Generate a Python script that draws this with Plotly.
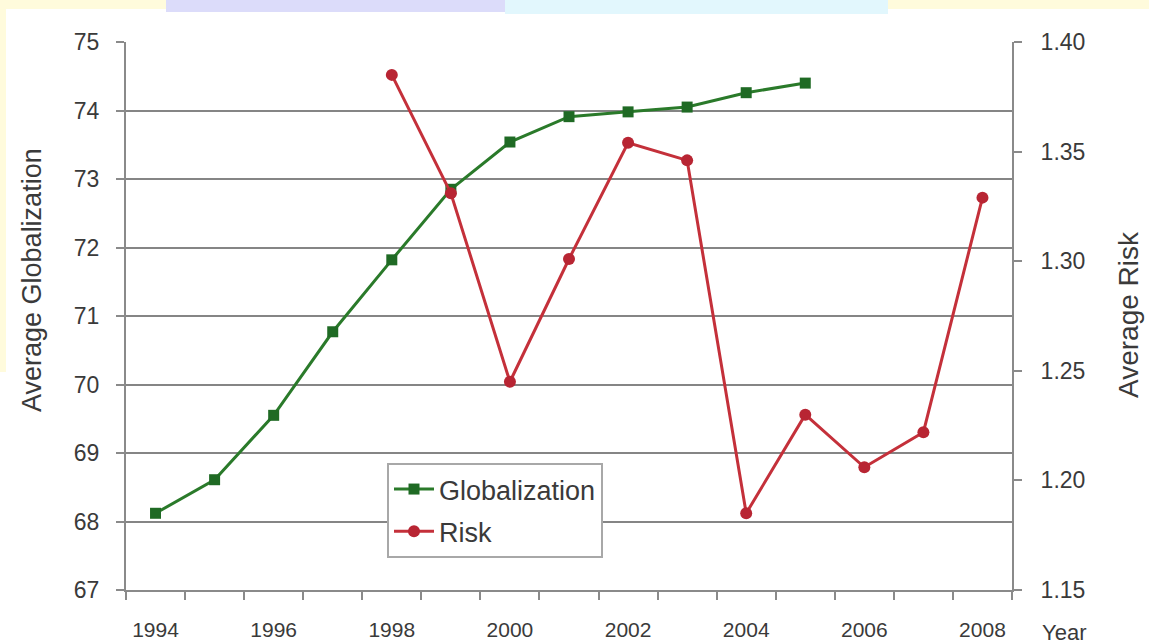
import plotly.graph_objects as go

# ---- data ----
glob_years = [1994, 1995, 1996, 1997, 1998, 1999, 2000, 2001, 2002, 2003, 2004, 2005]
globalization = [68.12, 68.61, 69.55, 70.77, 71.82, 72.85, 73.54, 73.91, 73.98, 74.05, 74.26, 74.40]

risk_years = [1998, 1999, 2000, 2001, 2002, 2003, 2004, 2005, 2006, 2007, 2008]
risk = [1.385, 1.331, 1.245, 1.301, 1.354, 1.346, 1.185, 1.230, 1.206, 1.222, 1.329]

x_ticks = [1994, 1996, 1998, 2000, 2002, 2004, 2006, 2008]
left_ticks = [67, 68, 69, 70, 71, 72, 73, 74, 75]
right_ticks = [1.15, 1.20, 1.25, 1.30, 1.35, 1.40]

W, H = 1149, 644
L, R, T, B = 126, 137, 42, 54
PW, PH = W - L - R, H - T - B

def px(x):
    return (x - L) / PW

def py(y):
    return (H - B - y) / PH

FONT = "Liberation Sans, Arial, sans-serif"
TXT = "#3a3a3a"
GRID = "#858585"
AX = "#8a8a8a"
GREEN = "#2a7a2a"
RED = "#c4303a"

fig = go.Figure()
fig.add_trace(go.Scatter(
    x=glob_years, y=globalization, name="Globalization", mode="lines+markers",
    line=dict(color=GREEN, width=3),
    marker=dict(symbol="square", size=11, color="#1f6a24"),
    yaxis="y", legendgroup="g",
))
fig.add_trace(go.Scatter(
    x=risk_years, y=risk, name="Risk", mode="lines+markers",
    line=dict(color=RED, width=3),
    marker=dict(symbol="circle", size=12, color="#b82533"),
    yaxis="y2", legendgroup="r",
))

shapes = [
    # decorative slide banner at top
    dict(type="rect", xref="paper", yref="paper", x0=px(0), x1=px(W), y0=py(9), y1=py(0),
         fillcolor="#fffbdc", line=dict(width=0), layer="below"),
    dict(type="rect", xref="paper", yref="paper", x0=px(166), x1=px(505), y0=py(12), y1=py(0),
         fillcolor="#dcdcfa", line=dict(width=0), layer="below"),
    dict(type="rect", xref="paper", yref="paper", x0=px(505), x1=px(888), y0=py(14), y1=py(0),
         fillcolor="#e2f7fd", line=dict(width=0), layer="below"),
    dict(type="rect", xref="paper", yref="paper", x0=px(0), x1=px(6), y0=py(372), y1=py(0),
         fillcolor="#fffbdc", line=dict(width=0), layer="below"),
]

annotations = [
    dict(text="Average Globalization", xref="paper", yref="paper", x=px(32), y=py(280),
         textangle=-90, showarrow=False, font=dict(family=FONT, size=27, color=TXT),
         xanchor="center", yanchor="middle"),
    dict(text="Average Risk", xref="paper", yref="paper", x=px(1128), y=py(315),
         textangle=-90, showarrow=False, font=dict(family=FONT, size=28, color=TXT),
         xanchor="center", yanchor="middle"),
    dict(text="Year", xref="paper", yref="paper", x=px(1040), y=py(632),
         showarrow=False, font=dict(family=FONT, size=22, color=TXT),
         xanchor="left", yanchor="middle"),
]

fig.update_layout(
    width=W, height=H,
    margin=dict(l=L, r=R, t=T, b=B, autoexpand=False),
    paper_bgcolor="white", plot_bgcolor="white",
    font=dict(family=FONT, size=21, color=TXT),
    showlegend=True,
    legend=dict(
        x=px(387), y=py(463), xanchor="left", yanchor="top",
        bordercolor="#a8a8a8", borderwidth=2, bgcolor="white",
        font=dict(family=FONT, size=27, color=TXT),
        itemwidth=40, tracegroupgap=4,
    ),
    xaxis=dict(
        range=[1993.5, 2008.5], tickmode="array", tickvals=x_ticks,
        ticks="", showgrid=False, zeroline=False, automargin=False,
        showline=True, linecolor=AX, linewidth=2,
        ticklabelstandoff=20, tickfont=dict(size=21),
        minor=dict(tickmode="linear", tick0=1993.5, dtick=1, ticks="outside",
                   ticklen=8, tickcolor=AX, tickwidth=2, showgrid=False),
    ),
    yaxis=dict(
        range=[67, 75], tickmode="array", tickvals=left_ticks,
        ticks="outside", ticklen=8, tickcolor=AX, tickwidth=2,
        showgrid=True, gridcolor=GRID, gridwidth=2, zeroline=False, automargin=False,
        showline=True, linecolor=AX, linewidth=2,
        ticklabelstandoff=12, tickfont=dict(size=23),
    ),
    yaxis2=dict(
        range=[1.15, 1.40], tickmode="array", tickvals=right_ticks,
        ticktext=[f"{v:.2f}" for v in right_ticks],
        overlaying="y", side="right",
        ticks="outside", ticklen=8, tickcolor=AX, tickwidth=2,
        showgrid=False, zeroline=False, automargin=False,
        showline=True, linecolor=AX, linewidth=2,
        ticklabelstandoff=14, tickfont=dict(size=23),
    ),
    shapes=shapes,
    annotations=annotations,
)

fig.write_html(
    "out.html",
    config={"displayModeBar": False},
    post_script="document.body.style.margin='0';document.body.style.overflow='hidden';",
)
